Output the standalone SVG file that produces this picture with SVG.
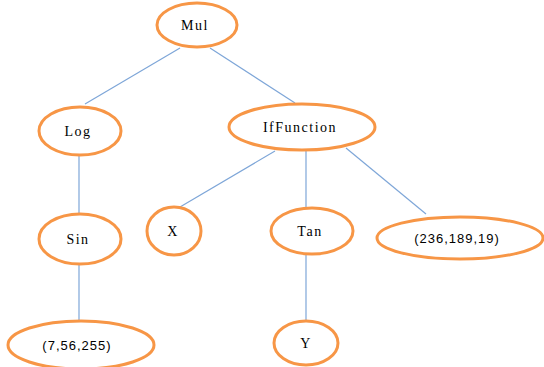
<svg xmlns="http://www.w3.org/2000/svg" width="544" height="367" viewBox="0 0 544 367">
<style>
.n{fill:#fff;stroke:#f79646;stroke-width:3}
.e{stroke:#7ea6d8;stroke-width:1.2;fill:none}
.t{font-family:"Liberation Serif",serif;font-size:14px;letter-spacing:1.5px;text-anchor:middle;dominant-baseline:central;fill:#000}
.s{font-family:"Liberation Sans",sans-serif;font-size:13px;letter-spacing:1px;text-anchor:middle;dominant-baseline:central;fill:#000}
</style>
<rect width="544" height="367" fill="#fff"/>
<g id="connectors">
<line class="e" x1="180" y1="48" x2="85" y2="104"/>
<line class="e" x1="210" y1="48" x2="295" y2="103"/>
<line class="e" x1="79" y1="156" x2="79" y2="214"/>
<line class="e" x1="79" y1="264" x2="79" y2="321"/>
<line class="e" x1="275" y1="151" x2="180" y2="207"/>
<line class="e" x1="306" y1="150" x2="306" y2="208"/>
<line class="e" x1="346" y1="148" x2="426" y2="214"/>
<line class="e" x1="306" y1="254" x2="306" y2="321"/>
</g>
<g id="mul"><ellipse class="n" cx="197" cy="25" rx="40" ry="22"/><text class="t" x="195" y="25">Mul</text></g>
<g id="log"><ellipse class="n" cx="80" cy="131" rx="41" ry="24"/><text class="t" x="78" y="131">Log</text></g>
<g id="iffunction"><ellipse class="n" cx="302" cy="127" rx="73" ry="23"/><text class="t" x="300" y="127">IfFunction</text></g>
<g id="sin"><ellipse class="n" cx="80" cy="239" rx="41" ry="25"/><text class="t" x="78" y="239">Sin</text></g>
<g id="x"><ellipse class="n" cx="174" cy="231" rx="27" ry="24"/><text class="t" x="173" y="231">X</text></g>
<g id="tan"><ellipse class="n" cx="312" cy="231" rx="41" ry="23"/><text class="t" x="310" y="231">Tan</text></g>
<g id="c236"><ellipse class="n" cx="460" cy="238" rx="83" ry="21"/><text class="s" x="457" y="238">(236,189,19)</text></g>
<g id="c7"><ellipse class="n" cx="81" cy="345" rx="73" ry="24"/><text class="s" x="77" y="345">(7,56,255)</text></g>
<g id="y"><ellipse class="n" cx="306" cy="343" rx="32" ry="22"/><text class="t" x="306" y="343">Y</text></g>
</svg>
